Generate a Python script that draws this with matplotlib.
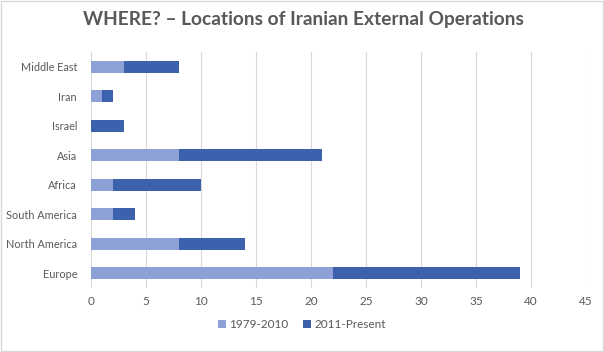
import matplotlib.pyplot as plt
import numpy as np

regions = ['Europe', 'North America', 'South America', 'Africa', 'Asia',
           'Israel', 'Iran', 'Middle East']
early = [22, 8, 2, 2, 8, 0, 1, 3]    # 1979-2010
recent = [17, 6, 2, 8, 13, 3, 1, 5]  # 2011-Present

plt.rcParams['font.family'] = ['Lato', 'DejaVu Sans']

fig = plt.figure(figsize=(6.04, 3.52), dpi=100)
fig.patches.append(plt.Rectangle((0.002, 0.003), 0.996, 0.994, transform=fig.transFigure,
                                 fill=False, edgecolor='#d9d9d9', linewidth=1))
ax = fig.add_axes([91/604, 1 - 288/352, (586 - 91)/604, (288 - 52)/352])

y = np.arange(len(regions))
ax.barh(y, early, height=0.42, color='#8ea1d6', label='1979-2010', zorder=3)
ax.barh(y, recent, left=early, height=0.42, color='#3c62ae', label='2011-Present', zorder=3)

ax.set_xlim(0, 45)
ax.set_ylim(-0.5, len(regions) - 0.5)
ax.set_xticks(range(0, 46, 5))
ax.set_yticks(y)
ax.set_yticklabels(regions)
ax.grid(axis='x', color='#d9d9d9', linewidth=0.8, zorder=0)
for s in ax.spines.values():
    s.set_visible(False)
ax.tick_params(length=0, colors='#595959', labelsize=8.5)
ax.tick_params(axis='y', labelsize=7.8, pad=10)
ax.tick_params(axis='x', pad=6)

fig.text(0.503, 0.945, 'WHERE? \u2013 Locations of Iranian External Operations',
         ha='center', va='center', fontsize=13.8, fontweight='bold', color='#595959')

fig.legend(loc='center', bbox_to_anchor=(0.5, 0.077), ncol=2, frameon=False,
           fontsize=8.5, labelcolor='#595959', handlelength=0.7, handleheight=0.7,
           columnspacing=1.2, handletextpad=0.3)

plt.savefig('out.png', dpi=100)
